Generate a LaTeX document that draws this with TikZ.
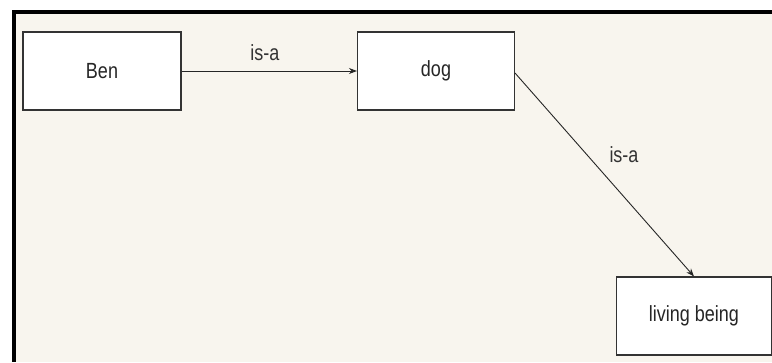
\documentclass[tikz,border=0pt]{standalone}
\usepackage{fontspec}
\setmainfont{Liberation Sans}
\usetikzlibrary{arrows.meta}
\definecolor{canvas}{HTML}{F8F5EE}
\definecolor{edge}{HTML}{333333}
\newcommand{\tall}[1]{\scalebox{1}[1.22]{#1}}
\begin{document}
\begin{tikzpicture}[x=1pt,y=1pt,
  concept/.style={draw=edge,line width=1.1pt,fill=white,inner sep=0pt,
    font=\fontsize{18}{21}\selectfont,text=black!85},
  link/.style={draw=black!85,line width=0.9pt,-{Stealth[length=8pt,width=6pt]}},
  lbl/.style={font=\fontsize{18}{21}\selectfont,inner sep=0pt,text=black!80}]
\useasboundingbox (0,0) rectangle (772,362);
% page and frame
\fill[white] (0,0) rectangle (772,362);
\fill[canvas] (16,0) rectangle (772,348);
\fill[black] (12,0) rectangle (16,352);
\fill[black] (12,348) rectangle (772,352);
% concepts
\node[concept,minimum width=158pt,minimum height=78pt] (ben) at (102,291) {\tall{Ben}};
\node[concept,minimum width=157pt,minimum height=78pt] (dog) at (436,291) {\tall{dog}};
\node[concept,minimum width=155pt,minimum height=78pt] (living) at (694,46) {\tall{living being}};
% relations
\draw[link] (ben.east) -- (dog.west);
\node[lbl] (l1) at (265,309) {\tall{is-a}};
\coordinate (dogout) at (515,289);
\draw[link] (dogout) -- (living.north);
\node[lbl] (l2) at (624,207) {\tall{is-a}};
\end{tikzpicture}
\end{document}
